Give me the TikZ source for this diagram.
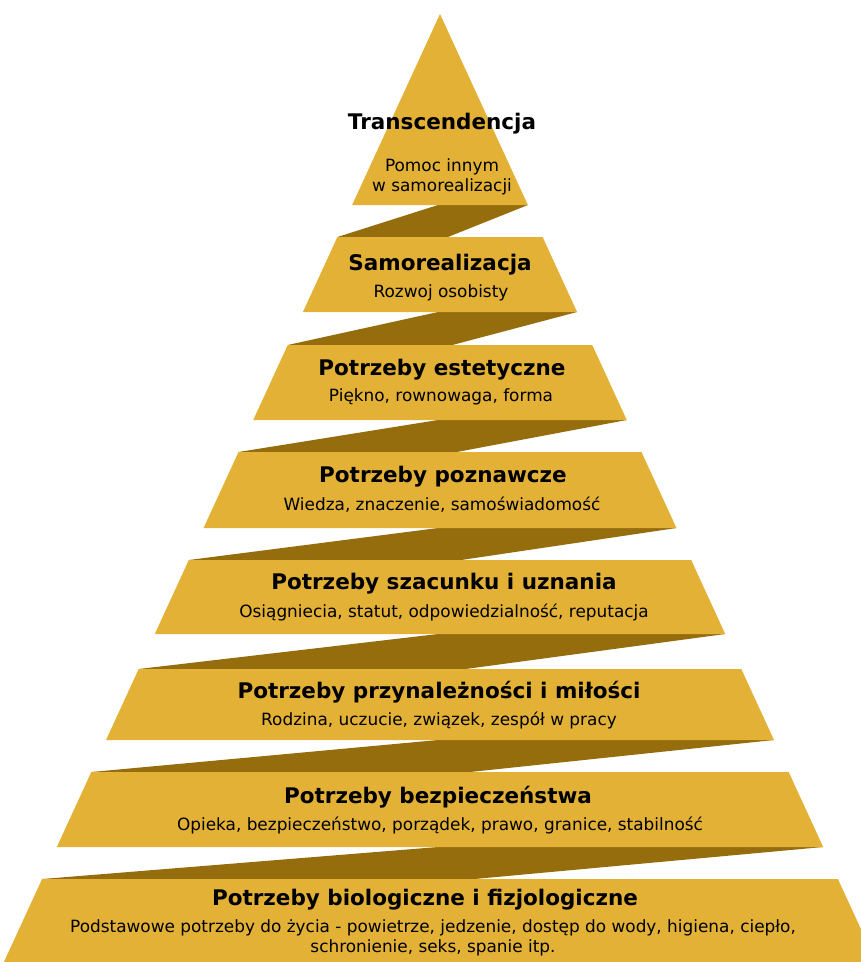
\documentclass[tikz,border=0pt]{standalone}
\usepackage{fontspec}
\setmainfont{DejaVu Sans}
\definecolor{gold}{RGB}{226,177,54}
\definecolor{ribbon}{RGB}{150,109,12}
\newcommand\ribbonband[2]{\fill[bandfill] (438,#1) -- ({440+0.46*(#1-14)},#1) -- ({440+0.09*0.46*(#1-14)},#2) -- ({440-0.46*(#2-14)},#2) -- cycle;}
\newcommand\tier[2]{\fill[layerfill] ({440-0.46*(#1-14)},#1) -- ({440+0.46*(#1-14)},#1) -- ({440+0.46*(#2-14)},#2) -- ({440-0.46*(#2-14)},#2) -- cycle;}
\begin{document}
\begin{tikzpicture}[x=1pt,y=-1pt,
  layerfill/.style={fill=gold},
  bandfill/.style={fill=ribbon},
  title/.style={font=\fontsize{21.5}{25}\selectfont\bfseries, inner sep=0pt},
  sub/.style={font=\fontsize{16.9}{19.5}\selectfont, align=center, inner sep=0pt}]
\useasboundingbox (0,0) rectangle (861,962);
\clip (0,0) rectangle (861,962);
% ribbon backs
\ribbonband{205}{237}
\ribbonband{312}{345}
\ribbonband{420}{452}
\ribbonband{528}{560}
\ribbonband{634}{669}
\ribbonband{740}{772}
\ribbonband{847}{879}
% tiers
\fill[layerfill] (440,14) -- ({440+0.46*191},205) -- ({440-0.46*191},205) -- cycle;
\tier{237}{312}
\tier{345}{420}
\tier{452}{528}
\tier{560}{634}
\tier{669}{740}
\tier{772}{847}
\tier{879}{975}
% texts
\node[title] (t1) at (442,124) {Transcendencja};
\node[sub] (s1) at (442,177) {Pomoc innym\\w samorealizacji};
\node[title] (t2) at (440,265) {Samorealizacja};
\node[sub] (s2) at (441,293) {Rozwoj osobisty};
\node[title] (t3) at (442,370) {Potrzeby estetyczne};
\node[sub] (s3) at (441,397) {Piękno, rownowaga, forma};
\node[title] (t4) at (443,477) {Potrzeby poznawcze};
\node[sub] (s4) at (442,505) {Wiedza, znaczenie, samoświadomość};
\node[title] (t5) at (444,584) {Potrzeby szacunku i uznania};
\node[sub] (s5) at (444,612) {Osiągniecia, statut, odpowiedzialność, reputacja};
\node[title] (t6) at (439,692) {Potrzeby przynależności i miłości};
\node[sub] (s6) at (439,720) {Rodzina, uczucie, związek, zespół w pracy};
\node[title] (t7) at (438,797) {Potrzeby bezpieczeństwa};
\node[sub] (s7) at (440,825) {Opieka, bezpieczeństwo, porządek, prawo, granice, stabilność};
\node[title] (t8) at (425,900) {Potrzeby biologiczne i fizjologiczne};
\node[sub] (s8) at (433,938) {Podstawowe potrzeby do życia - powietrze, jedzenie, dostęp do wody, higiena, ciepło,\\schronienie, seks, spanie itp.};
\end{tikzpicture}
\end{document}
